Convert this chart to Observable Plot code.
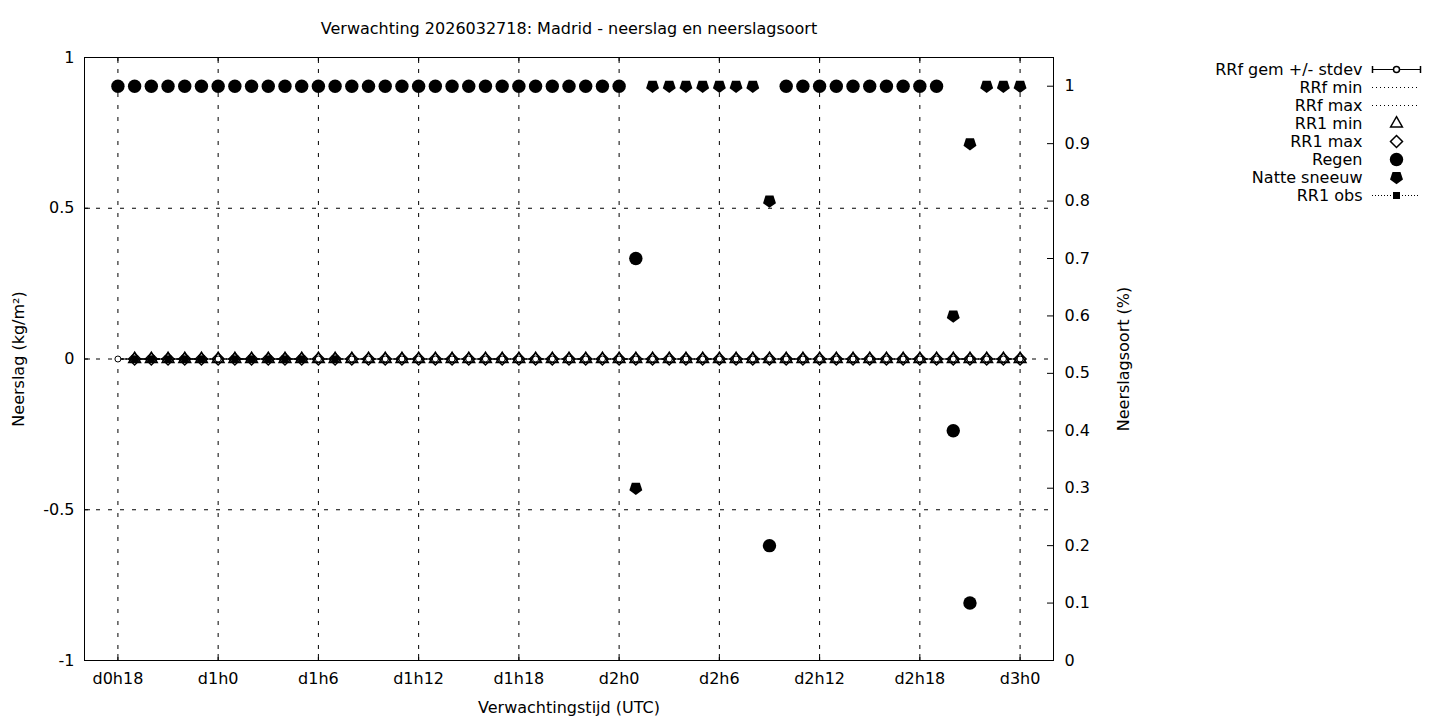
<!DOCTYPE html>
<html><head><meta charset="utf-8">
<script src="https://cdn.jsdelivr.net/npm/d3@7"></script>
<script src="https://cdn.jsdelivr.net/npm/@observablehq/plot@0.6"></script>
<style>
html,body{margin:0;padding:0;background:#fff;}
#wrap{position:relative;width:1440px;height:720px;font-family:"DejaVu Sans",sans-serif;}
#chart{position:absolute;left:0;top:0;}
#legend{position:absolute;left:1180px;top:57px;}
</style></head>
<body><div id="wrap"><div id="chart"></div><div id="legend"></div></div>
<script>
// ---- data ----
const hours = [18,19,20,21,22,23,24,25,26,27,28,29,30,31,32,33,34,35,36,37,38,39,40,41,42,43,44,45,46,47,48,
               49,50,51,52,53,54,55,56,57,58,59,60,61,62,63,64,65,66,67,68,69,70,71,72];
const rrfGem   = [0,0,0,0,0,0,0,0,0,0,0,0,0,0,0,0,0,0,0,0,0,0,0,0,0,0,0,0,0,0,0,0,0,0,0,0,0,0,0,0,0,0,0,0,0,0,0,0,0,0,0,0,0,0,0];
const rrfStdev = [0,0,0,0,0,0,0,0,0,0,0,0,0,0,0,0,0,0,0,0,0,0,0,0,0,0,0,0,0,0,0,0,0,0,0,0,0,0,0,0,0,0,0,0,0,0,0,0,0,0,0,0,0,0,0];
const rrfMin   = [0,0,0,0,0,0,0,0,0,0,0,0,0,0,0,0,0,0,0,0,0,0,0,0,0,0,0,0,0,0,0,0,0,0,0,0,0,0,0,0,0,0,0,0,0,0,0,0,0,0,0,0,0,0,0];
const rrfMax   = [0,0,0,0,0,0,0,0,0,0,0,0,0,0,0,0,0,0,0,0,0,0,0,0,0,0,0,0,0,0,0,0,0,0,0,0,0,0,0,0,0,0,0,0,0,0,0,0,0,0,0,0,0,0,0];
const rr1Min   = [null,0,0,0,0,0,0,0,0,0,0,0,0,0,0,0,0,0,0,0,0,0,0,0,0,0,0,0,0,0,0,0,0,0,0,0,0,0,0,0,0,0,0,0,0,0,0,0,0,0,0,0,0,0,0];
const rr1Max   = [null,0,0,0,0,0,0,0,0,0,0,0,0,0,0,0,0,0,0,0,0,0,0,0,0,0,0,0,0,0,0,0,0,0,0,0,0,0,0,0,0,0,0,0,0,0,0,0,0,0,0,0,0,0,0];
const regen    = [1,1,1,1,1,1,1,1,1,1,1,1,1,1,1,1,1,1,1,1,1,1,1,1,1,1,1,1,1,1,1,
                  0.7,null,null,null,null,null,null,null,0.2,1,1,1,1,1,1,1,1,1,1,0.4,0.1,null,null,null];
const natteSneeuw = [null,null,null,null,null,null,null,null,null,null,null,null,null,null,null,null,null,null,null,null,null,null,null,null,null,null,null,null,null,null,null,
                  0.3,1,1,1,1,1,1,1,0.8,null,null,null,null,null,null,null,null,null,null,0.6,0.9,1,1,1];
const rr1Obs   = [null,0,0,0,0,0,null,0,0,0,0,0,null,0,null,null,null,null,null,null,null,null,null,null,null,null,null,null,null,null,null,
                  null,null,null,null,null,null,null,null,null,null,null,null,null,null,null,null,null,null,null,null,null,null,null,null];

const xTickHours  = [18,24,30,36,42,48,54,60,66,72];
const xTickLabels = ["d0h18","d1h0","d1h6","d1h12","d1h18","d2h0","d2h6","d2h12","d2h18","d3h0"];
const yLeftTicks  = [-1,-0.5,0,0.5,1];
const yLeftLabels = ["-1","-0.5","0","0.5","1"];
const yRightTicks = [0,0.1,0.2,0.3,0.4,0.5,0.6,0.7,0.8,0.9,1];
const yRightLabels= ["0","0.1","0.2","0.3","0.4","0.5","0.6","0.7","0.8","0.9","1"];
const legendLabels = ["RRf gem +/- stdev","RRf min","RRf max","RR1 min","RR1 max","Regen","Natte sneeuw","RR1 obs"];
const titleText = "Verwachting 2026032718: Madrid - neerslag en neerslagsoort";
const xLabel = "Verwachtingstijd (UTC)";
const yLabel = "Neerslag (kg/m²)";
const y2Label = "Neerslagsoort (%)";

// ---- build ----
const rows = hours.map((h,i)=>({h, gem:rrfGem[i], sd:rrfStdev[i], mn:rrfMin[i], mx:rrfMax[i],
  r1min:rr1Min[i], r1max:rr1Max[i], regen:regen[i], sneeuw:natteSneeuw[i], obs:rr1Obs[i]}));
const Y2_MAX = 1.05;
const toLeft = v => -1 + v * 2 / Y2_MAX;
const rightPos = yRightTicks.map(toLeft);

const pentagon = {draw(ctx, size){
  const R = Math.sqrt(size/Math.PI);
  for (let k=0;k<5;k++){
    const a = Math.PI/2 + k*2*Math.PI/5;
    const px = R*Math.cos(a), py = R*Math.sin(a);
    if (k) ctx.lineTo(px,py); else ctx.moveTo(px,py);
  }
  ctx.closePath();
}};
const vbar = {draw(ctx, size){ const h = Math.sqrt(size/Math.PI); ctx.moveTo(0,-h); ctx.lineTo(0,h); }};

const W=1440, H=720, mL=84, mR=387, mT=57, mB=60;
const frameW = W-mL-mR, frameH = H-mT-mB, tk = 6;
const fontStyle = {fontFamily:'"DejaVu Sans", sans-serif', fontSize:"16px", color:"black", background:"white"};
const dash = "4,8";
const triR = 5.6, diaR = 5.4;

const chart = Plot.plot({
  width:W, height:H, marginLeft:mL, marginRight:mR, marginTop:mT, marginBottom:mB,
  style: fontStyle,
  x:{domain:[16,74]},
  y:{domain:[-1,1]},
  marks:[
    Plot.gridX(xTickHours, {stroke:"black", strokeOpacity:1, strokeDasharray:dash}),
    Plot.gridY(yLeftTicks.filter(v=>v>-1 && v<1), {stroke:"black", strokeOpacity:1, strokeDasharray:dash}),
    Plot.frame({stroke:"black"}),
    Plot.ruleX(xTickHours, {insetTop: frameH-tk, stroke:"black"}),
    Plot.ruleX(xTickHours, {insetBottom: frameH-tk, stroke:"black"}),
    Plot.ruleY(yLeftTicks, {insetRight: frameW-tk, stroke:"black"}),
    Plot.ruleY(rightPos, {insetLeft: frameW-tk, stroke:"black"}),
    Plot.axisX(xTickHours, {tickSize:0, tickPadding:12, label:null,
      tickFormat: d => xTickLabels[xTickHours.indexOf(d)]}),
    Plot.axisY(yLeftTicks, {tickSize:0, tickPadding:10, label:null,
      tickFormat: d => yLeftLabels[yLeftTicks.indexOf(d)]}),
    Plot.axisY(rightPos, {anchor:"right", tickSize:0, tickPadding:11, label:null,
      tickFormat: d => yRightLabels[rightPos.indexOf(d)]}),
    Plot.text([titleText], {text:d=>d, frameAnchor:"top", dy:-29, lineAnchor:"middle", textAnchor:"middle"}),
    Plot.text([xLabel], {text:d=>d, frameAnchor:"bottom", dy:47, lineAnchor:"middle", textAnchor:"middle"}),
    Plot.text([yLabel], {text:d=>d, frameAnchor:"left", dx:-66, rotate:-90, lineAnchor:"middle", textAnchor:"middle"}),
    Plot.text([y2Label], {text:d=>d, frameAnchor:"right", dx:70, rotate:-90, lineAnchor:"middle", textAnchor:"middle"}),
    // RRf
    Plot.line(rows, {x:"h", y:"mn", stroke:"black", strokeWidth:1, strokeDasharray:"1,3"}),
    Plot.line(rows, {x:"h", y:"mx", stroke:"black", strokeWidth:1, strokeDasharray:"1,3"}),
    Plot.line(rows, {x:"h", y:"gem", stroke:"black", strokeWidth:1}),
    Plot.ruleX(rows, {x:"h", y1:d=>d.gem-d.sd, y2:d=>d.gem+d.sd, stroke:"black"}),
    Plot.dot(rows, {x:"h", y:"gem", r:3, fill:"white", stroke:"black", strokeWidth:1}),
    // RR1 min / max
    Plot.dot(rows.filter(d=>d.r1min!=null), {x:"h", y:"r1min", symbol:"triangle2", r:triR, fill:"none", stroke:"black", strokeWidth:1.5}),
    Plot.dot(rows.filter(d=>d.r1max!=null), {x:"h", y:"r1max", symbol:"diamond2", r:diaR, fill:"none", stroke:"black", strokeWidth:1.5}),
    // precipitation type (right axis)
    Plot.dot(rows.filter(d=>d.regen!=null), {x:"h", y:d=>toLeft(d.regen), r:6.7, fill:"black", stroke:"none"}),
    Plot.dot(rows.filter(d=>d.sneeuw!=null), {x:"h", y:d=>toLeft(d.sneeuw), symbol:pentagon, r:6.8, fill:"black", stroke:"none"}),
    // obs
    Plot.line(rows, {x:"h", y:d=>d.obs==null?NaN:d.obs, stroke:"black", strokeDasharray:"1,2"}),
    Plot.dot(rows.filter(d=>d.obs!=null), {x:"h", y:"obs", symbol:"square", r:3.95, fill:"black", stroke:"none"})
  ]
});
document.getElementById("chart").appendChild(chart);

const L = legendLabels;
const legend = Plot.plot({
  width:250, height:160, marginLeft:0, marginRight:10, marginTop:9, marginBottom:20,
  style: {...fontStyle, background:"transparent"},
  x:{domain:[0,1], axis:null},
  y:{type:"point", domain:L, padding:0, axis:null},
  marks:[
    Plot.text(L, {y:d=>d, text:d=>d, frameAnchor:"right", dx:-58, textAnchor:"end", lineAnchor:"middle"}),
    Plot.ruleY([L[0]], {y:d=>d, insetLeft:192, stroke:"black"}),
    Plot.dot([L[0]], {y:d=>d, frameAnchor:"right", symbol:vbar, r:3.5, fill:"none", stroke:"black"}),
    Plot.dot([L[0]], {y:d=>d, frameAnchor:"right", dx:-48, symbol:vbar, r:3.5, fill:"none", stroke:"black"}),
    Plot.dot([L[0]], {y:d=>d, frameAnchor:"right", dx:-24, r:3, fill:"white", stroke:"black"}),
    Plot.ruleY([L[1],L[2]], {y:d=>d, insetLeft:192, stroke:"black", strokeDasharray:"1,3"}),
    Plot.dot([L[3]], {y:d=>d, frameAnchor:"right", dx:-24, symbol:"triangle2", r:triR, fill:"none", stroke:"black", strokeWidth:1.5}),
    Plot.dot([L[4]], {y:d=>d, frameAnchor:"right", dx:-24, symbol:"diamond2", r:diaR, fill:"none", stroke:"black", strokeWidth:1.5}),
    Plot.dot([L[5]], {y:d=>d, frameAnchor:"right", dx:-24, r:6.7, fill:"black"}),
    Plot.dot([L[6]], {y:d=>d, frameAnchor:"right", dx:-24, symbol:pentagon, r:6.8, fill:"black"}),
    Plot.ruleY([L[7]], {y:d=>d, insetLeft:192, stroke:"black", strokeDasharray:"1,2"}),
    Plot.dot([L[7]], {y:d=>d, frameAnchor:"right", dx:-24, symbol:"square", r:3.95, fill:"black"})
  ]
});
document.getElementById("legend").appendChild(legend);
</script>
</body></html>
